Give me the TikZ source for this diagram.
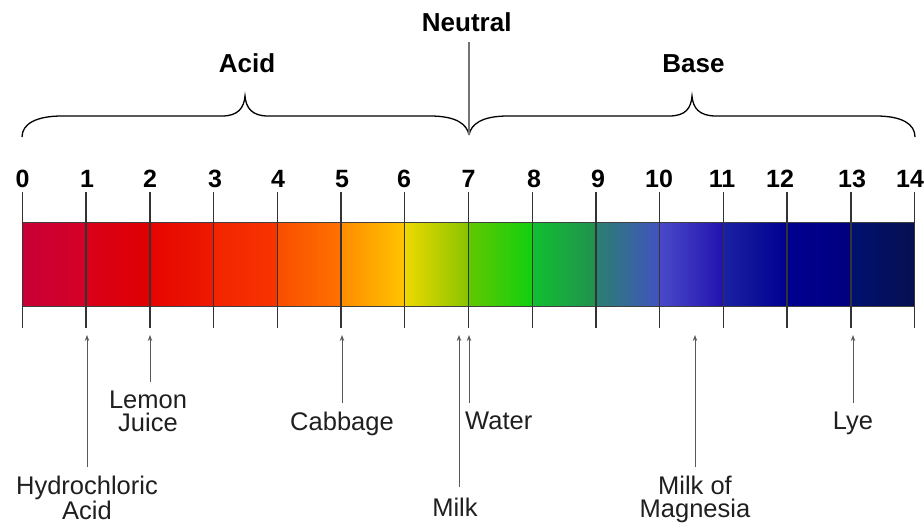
\documentclass[tikz,border=0pt]{standalone}
\usepackage{fontspec}
\setmainfont{Liberation Sans}
\usetikzlibrary{arrows.meta}
\definecolor{c0a}{HTML}{C80036}\definecolor{c0b}{HTML}{D50026}
\definecolor{c1a}{HTML}{D8001A}\definecolor{c1b}{HTML}{E00000}
\definecolor{c2a}{HTML}{E60400}\definecolor{c2b}{HTML}{EE1A00}
\definecolor{c3a}{HTML}{F22400}\definecolor{c3b}{HTML}{F83400}
\definecolor{c4a}{HTML}{F84E00}\definecolor{c4b}{HTML}{FF7200}
\definecolor{c5a}{HTML}{FF8C00}\definecolor{c5b}{HTML}{FFC400}
\definecolor{c6a}{HTML}{EED800}\definecolor{c6b}{HTML}{88C400}
\definecolor{c7a}{HTML}{62C800}\definecolor{c7b}{HTML}{10D010}
\definecolor{c8a}{HTML}{10C030}\definecolor{c8b}{HTML}{229050}
\definecolor{c9a}{HTML}{2A8070}\definecolor{c9b}{HTML}{4252C0}
\definecolor{c10a}{HTML}{4A4AC8}\definecolor{c10b}{HTML}{2212B0}
\definecolor{c11a}{HTML}{1A22A2}\definecolor{c11b}{HTML}{000090}
\definecolor{c12a}{HTML}{000090}\definecolor{c12b}{HTML}{000080}
\definecolor{c13a}{HTML}{001070}\definecolor{c13b}{HTML}{061050}
\begin{document}
\begin{tikzpicture}[x=1pt,y=-1pt,
  lbl/.style={font=\fontsize{25.5}{23}\selectfont, text=black!88, align=center, inner sep=0pt, anchor=north},
  num/.style={font=\fontsize{25}{25}\selectfont\bfseries, anchor=base, inner sep=0pt},
  head/.style={font=\fontsize{26}{26}\selectfont\bfseries, anchor=base, inner sep=0pt},
  tickline/.style={line width=1.4pt, draw=black!80},
  ptr/.style={draw=black!65, line width=1pt, -{Stealth[length=6pt,width=4.5pt]}, shorten <=9pt},
  bracepath/.style={draw=black, line width=1.3pt},
  baredge/.style={draw=black!75, line width=1pt}]
\useasboundingbox (0,0) rectangle (924,524);
% bar segments
\foreach \i in {0,...,13}{
  \pgfmathsetmacro{\xa}{22.4+63.73*\i}
  \pgfmathsetmacro{\xb}{22.4+63.73*(\i+1)}
  \shade[left color=c\i a, right color=c\i b] (\xa,222) rectangle (\xb,306);
}
\draw[baredge] (22.4,222) -- (914.6,222) (22.4,306) -- (914.6,306);
% ticks
\foreach \i in {0,...,14}{
  \draw[tickline] ({22.4+63.73*\i},192) -- ({22.4+63.73*\i},328);
}
% numbers
\foreach \i/\x in {0/22.5,1/87,2/150,3/215,4/278,5/342,6/404,7/468.5,8/534,9/598,10/659,11/722,12/780,13/852,14/910}{
  \node[num] (n\i) at (\x,187) {\i};
}
% headings
\node[head] (acid) at (247,73) {Acid};
\node[head] (base) at (693.5,73) {Base};
\node[head] (neutral) at (466.7,32) {Neutral};
% braces
\coordinate (b7) at (469,135);
\draw[bracepath] (22,137) .. controls (22,124) and (36,116) .. (62,116) -- (222,116)
  .. controls (238,116) and (244,108) .. (245,96)
  .. controls (246,108) and (252,116) .. (268,116) -- (430,116)
  .. controls (456,116) and (467,124) .. (b7);
\draw[bracepath] (b7) .. controls (471,124) and (482,116) .. (508,116) -- (669,116)
  .. controls (686,116) and (691,108) .. (692,96)
  .. controls (693,108) and (699,116) .. (716,116) -- (876,116)
  .. controls (902,116) and (915,124) .. (915,137);
\draw[draw=black!55, line width=1.2pt, shorten <=10pt] (neutral.south -| b7) -- (b7);
% arrow targets
\coordinate (a1) at (87,335);
\coordinate (a2) at (150,335);
\coordinate (a5) at (342,335);
\coordinate (a6) at (459,335);
\coordinate (a7) at (469,335);
\coordinate (a10) at (695,335);
\coordinate (a13) at (853,335);
% labels
\node[lbl] (hcl) at (87,476) {Hydrochloric\\Acid};
\node[lbl] (lemon) at (148,391) {Lemon\\Juice};
\node[lbl] (cabbage) at (342,412) {Cabbage};
\node[lbl, anchor=north west] (water) at (465,412) {Water};
\node[lbl] (milk) at (455,498) {Milk};
\node[lbl] (mom) at (695,476) {Milk of\\Magnesia};
\node[lbl] (lye) at (853,412) {Lye};
% pointers
\draw[ptr] (hcl.north) -- (a1);
\draw[ptr] (lemon.north -| a2) -- (a2);
\draw[ptr] (cabbage.north) -- (a5);
\draw[ptr, shorten <=11pt] (milk.north -| a6) -- (a6);
\draw[ptr] (water.north west -| a7) -- (a7);
\draw[ptr] (mom.north) -- (a10);
\draw[ptr] (lye.north) -- (a13);
\end{tikzpicture}
\end{document}
